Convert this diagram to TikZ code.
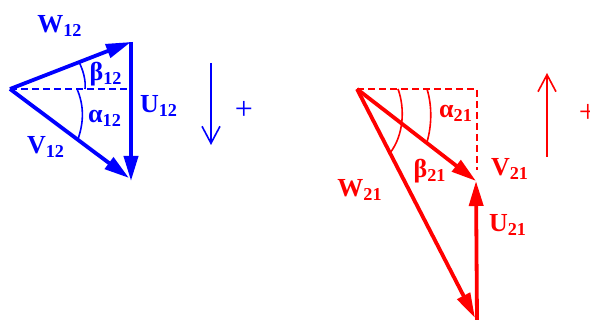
\documentclass[tikz,border=0pt]{standalone}
\usepackage{fontspec}
\setmainfont{Liberation Serif}
\usetikzlibrary{arrows.meta}

\begin{document}
\begin{tikzpicture}[x=0.5pt,y=-0.5pt,
vec/.style={line width=1.9pt,-{Triangle[length=12.5pt,width=7pt]}},
aux/.style={line width=0.8pt,dash pattern=on 3.5pt off 2pt},
ang/.style={line width=0.8pt},
sense/.style={line width=0.8pt,-{Straight Barb[length=8.5pt,width=9pt]}},
lbl/.style={font=\fontsize{13}{15}\selectfont\bfseries,inner sep=0pt},
sign/.style={font=\fontsize{16}{18}\selectfont,inner sep=0pt}]
\useasboundingbox (0,0) rectangle (590,320);
\begin{scope}[blue]
\coordinate (O12) at (10,89);
\coordinate (W12) at (131,42);
\coordinate (U12) at (131,181);
\coordinate (V12) at (129,178);
\coordinate (H12) at (131,89);
\draw[aux] (O12)--(H12);
\draw[vec] (O12)--(W12);
\draw[vec] (W12)--(U12);
\draw[vec] (O12)--(V12);
\draw[ang] (85,89) .. controls (86,80) and (83,70) .. (79,62);
\draw[ang] (77,89) .. controls (84,105) and (84,122) .. (78,139);
\node[lbl] (w12) at (60,26) {W\textsubscript{12}};
\node[lbl] (b12) at (106,74) {β\textsubscript{12}};
\node[lbl] (a12) at (105,118) {α\textsubscript{12}};
\node[lbl] (u12) at (159,106) {U\textsubscript{12}};
\node[lbl] (v12) at (46,147) {V\textsubscript{12}};
\draw[sense] (211,63)--(211,145);
\node[sign] (p12) at (244,110) {+};
\end{scope}
\begin{scope}[red]
\coordinate (O21) at (357,89);
\coordinate (H21) at (477,89);
\coordinate (D21) at (477,170);
\coordinate (V21) at (476,181);
\coordinate (B21) at (477,320);
\coordinate (W21) at (475,318);
\draw[aux] (O21)--(H21)--(D21);
\draw[vec] (O21)--(V21);
\draw[vec] (B21)--(V21);
\draw[vec] (O21)--(W21);
\draw[ang] (427,89) .. controls (432,105) and (432,125) .. (427,142);
\draw[ang] (398,89) .. controls (405,108) and (404,135) .. (390,153);
\node[lbl] (a21) at (456,113) {α\textsubscript{21}};
\node[lbl] (b21) at (430,171) {β\textsubscript{21}};
\node[lbl] (v21) at (510,169) {V\textsubscript{21}};
\node[lbl] (w21) at (360,190) {W\textsubscript{21}};
\node[lbl] (u21) at (508,225) {U\textsubscript{21}};
\draw[sense] (547,157)--(547,73);
\node[sign] (p21) at (588,113) {+};
\end{scope}
\end{tikzpicture}
\end{document}
